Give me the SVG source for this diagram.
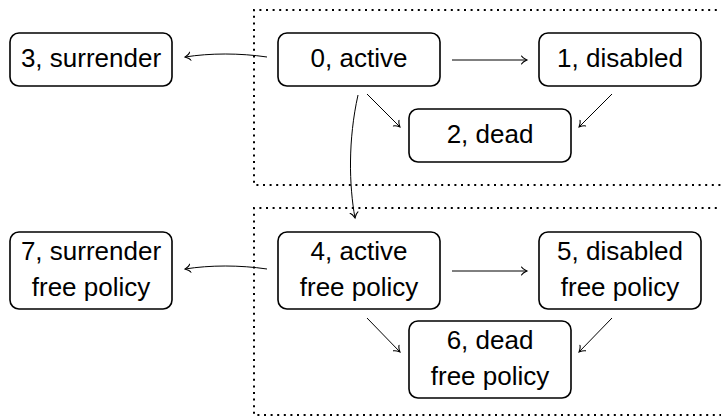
<svg xmlns="http://www.w3.org/2000/svg" width="721" height="416" viewBox="0 0 721 416">
  <style>
    .box { fill: #ffffff; stroke: #000; stroke-width: 1.6; }
    .frame { fill: none; stroke: #000; stroke-width: 2; stroke-dasharray: 2 4.6; }
    .lbl { font-family: "Liberation Sans", Arial, sans-serif; font-size: 26px; fill: #000; text-anchor: middle; }
    .edge { fill: none; stroke: #000; stroke-width: 1; marker-end: url(#to); }
  </style>
  <defs>
    <marker id="to" viewBox="-6 -5 8 10" refX="0" refY="0" markerWidth="8" markerHeight="10" markerUnits="userSpaceOnUse" orient="auto">
      <path d="M -5.5 -4 C -4 -1.5 -1 -0.5 0 0 C -1 0.5 -4 1.5 -5.5 4" fill="none" stroke="#000" stroke-width="1.1" stroke-linecap="round"/>
    </marker>
  </defs>

  <!-- dotted group frames -->
  <g id="frames">
    <path class="frame" d="M 730 10 H 254 V 185 H 730"/>
    <path class="frame" d="M 730 208 H 254 V 415 H 730"/>
  </g>

  <!-- connectors -->
  <g id="connectors">
    <path class="edge" d="M 267 57 C 240 53 210 53 185 57"/>
    <path class="edge" d="M 452 60 L 527 60"/>
    <path class="edge" d="M 367 94 L 400 127"/>
    <path class="edge" d="M 612 94 L 579 127"/>
    <path class="edge" d="M 358 95 C 348 140 349 185 355 218"/>
    <path class="edge" d="M 267 269 C 240 265 210 265 185 269"/>
    <path class="edge" d="M 452 271 L 527 271"/>
    <path class="edge" d="M 367 318 L 400 352"/>
    <path class="edge" d="M 612 318 L 579 352"/>
  </g>

  <g id="node0">
    <rect class="box" x="278" y="33" width="162" height="53" rx="9"/>
    <text class="lbl" x="359" y="67">0, active</text>
  </g>
  <g id="node1">
    <rect class="box" x="539" y="33" width="162" height="53" rx="9"/>
    <text class="lbl" x="620" y="67">1, disabled</text>
  </g>
  <g id="node2">
    <rect class="box" x="409" y="109" width="162" height="53" rx="9"/>
    <text class="lbl" x="490" y="143">2, dead</text>
  </g>
  <g id="node3">
    <rect class="box" x="10" y="33" width="162" height="53" rx="9"/>
    <text class="lbl" x="91" y="67">3, surrender</text>
  </g>
  <g id="node4">
    <rect class="box" x="278" y="232" width="162" height="77" rx="9"/>
    <text class="lbl" x="359" y="260">4, active</text>
    <text class="lbl" x="359" y="296">free policy</text>
  </g>
  <g id="node5">
    <rect class="box" x="539" y="232" width="162" height="77" rx="9"/>
    <text class="lbl" x="620" y="260">5, disabled</text>
    <text class="lbl" x="620" y="296">free policy</text>
  </g>
  <g id="node6">
    <rect class="box" x="409" y="321" width="162" height="77" rx="9"/>
    <text class="lbl" x="490" y="349">6, dead</text>
    <text class="lbl" x="490" y="385">free policy</text>
  </g>
  <g id="node7">
    <rect class="box" x="10" y="232" width="162" height="77" rx="9"/>
    <text class="lbl" x="91" y="260">7, surrender</text>
    <text class="lbl" x="91" y="296">free policy</text>
  </g>
</svg>
